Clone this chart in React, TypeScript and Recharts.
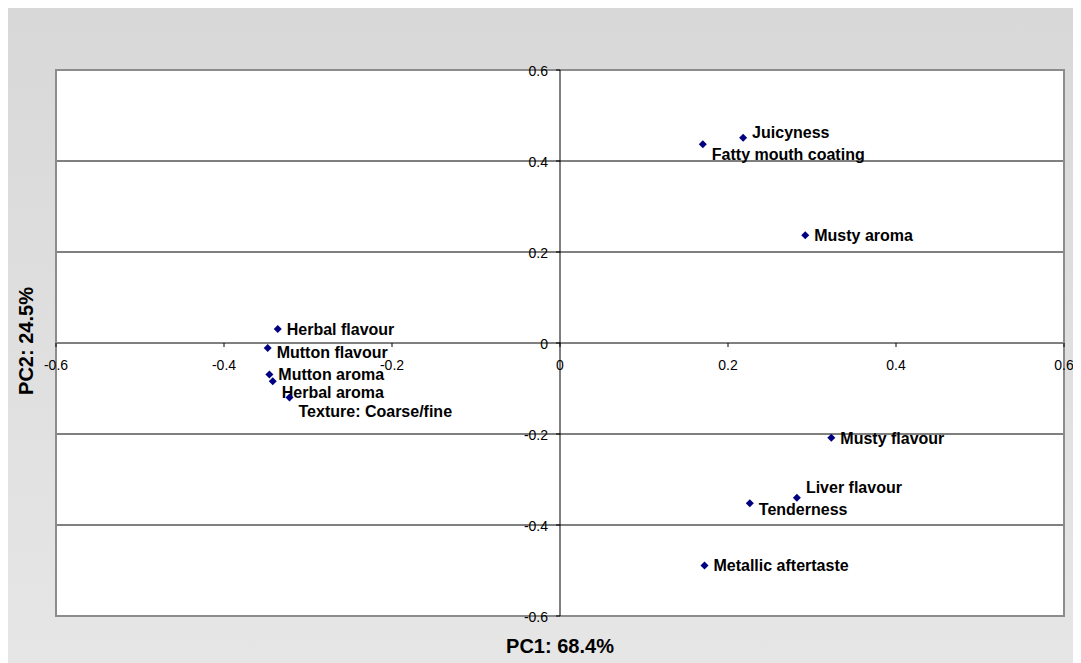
import React from "react";
import {
  ScatterChart,
  Scatter,
  XAxis,
  YAxis,
  CartesianGrid,
  ReferenceLine,
  ReferenceArea,
} from "recharts";

// ---- data ----
const attributes = [
  "Juicyness",
  "Fatty mouth coating",
  "Musty aroma",
  "Herbal flavour",
  "Mutton flavour",
  "Mutton aroma",
  "Herbal aroma",
  "Texture: Coarse/fine",
  "Musty flavour",
  "Liver flavour",
  "Tenderness",
  "Metallic aftertaste",
];
const pc1 = [0.218, 0.17, 0.292, -0.336, -0.348, -0.346, -0.342, -0.322, 0.323, 0.282, 0.226, 0.172];
const pc2 = [0.451, 0.437, 0.237, 0.031, -0.011, -0.069, -0.084, -0.12, -0.208, -0.34, -0.352, -0.489];
const xTicks = [-0.6, -0.4, -0.2, 0, 0.2, 0.4, 0.6];
const yTicks = [-0.6, -0.4, -0.2, 0, 0.2, 0.4, 0.6];
const xTitle = "PC1: 68.4%";
const yTitle = "PC2: 24.5%";

// label vertical offsets (style only)
const labelDy: Record<string, number> = {
  Juicyness: -6,
  "Fatty mouth coating": 10,
  "Mutton flavour": 4,
  "Herbal aroma": 11,
  "Texture: Coarse/fine": 13,
  "Liver flavour": -11,
  Tenderness: 6,
};

const points = attributes.map((name, i) => ({ name, x: pc1[i], y: pc2[i] }));

// ---- layout ----
const W = 1073;
const H = 656;
const M = { top: 62, right: 17, bottom: 18, left: 0 };
const Y_AXIS_W = 48;
const X_AXIS_H = 30;
const PLOT_LEFT = M.left + Y_AXIS_W;
const PLOT_W = W - PLOT_LEFT - M.right;
const PLOT_H = H - M.top - M.bottom - X_AXIS_H;
const ZERO_X = PLOT_LEFT + PLOT_W / 2;
const ZERO_Y = M.top + PLOT_H / 2;
const FONT = "'Liberation Sans', Arial, Helvetica, sans-serif";

const XTick = (props: any) => {
  const { x, payload } = props;
  return (
    <g>
      <line x1={x} x2={x} y1={ZERO_Y} y2={ZERO_Y + 4} stroke="#000" />
      <text x={x} y={ZERO_Y + 27} textAnchor="middle" fontSize={14} fill="#000" fontFamily={FONT}>
        {String(payload.value)}
      </text>
    </g>
  );
};

const YTick = (props: any) => {
  const { y, payload } = props;
  return (
    <g>
      <line x1={ZERO_X - 4} x2={ZERO_X} y1={y} y2={y} stroke="#000" />
      <text x={ZERO_X - 12} y={y + 6} textAnchor="end" fontSize={14} fill="#000" fontFamily={FONT}>
        {String(payload.value)}
      </text>
    </g>
  );
};

const PointShape = (props: any) => {
  const { cx, cy, payload } = props;
  if (cx == null || cy == null) return null;
  const s = 4;
  const dy = labelDy[payload.name] ?? 0;
  return (
    <g>
      <polygon
        points={`${cx},${cy - s} ${cx + s},${cy} ${cx},${cy + s} ${cx - s},${cy}`}
        fill="#000080"
      />
      <text
        x={cx + 9}
        y={cy + dy + 6}
        fontSize={16}
        fontWeight="bold"
        fill="#000"
        fontFamily={FONT}
      >
        {payload.name}
      </text>
    </g>
  );
};

export default function App() {
  return (
    <div
      style={{
        width: W,
        height: H,
        background: "linear-gradient(#d8d8d8, #e6e6e6)",
        position: "relative",
      }}
    >
      <ScatterChart width={W} height={H} margin={M}>
        <CartesianGrid vertical={false} stroke="#000" fill="#fff" />
        <XAxis
          type="number"
          dataKey="x"
          domain={[-0.6, 0.6]}
          ticks={xTicks}
          axisLine={false}
          tickLine={false}
          tick={<XTick />}
          height={X_AXIS_H}
          allowDataOverflow
        />
        <YAxis
          type="number"
          dataKey="y"
          domain={[-0.6, 0.6]}
          ticks={yTicks}
          axisLine={false}
          tickLine={false}
          tick={<YTick />}
          width={Y_AXIS_W}
          allowDataOverflow
        />
        <ReferenceLine x={0} stroke="#000" />
        <ReferenceArea
          x1={-0.6}
          x2={0.6}
          y1={-0.6}
          y2={0.6}
          fill="none"
          fillOpacity={0}
          stroke="#8c8c8c"
          strokeWidth={2}
          strokeOpacity={1}
        />
        <Scatter data={points} shape={<PointShape />} isAnimationActive={false} />
        <text
          x={ZERO_X}
          y={H - 11}
          textAnchor="middle"
          fontSize={20}
          fontWeight="bold"
          fill="#000"
          fontFamily={FONT}
        >
          {xTitle}
        </text>
        <text
          x={0}
          y={0}
          transform={`translate(24.5, ${ZERO_Y - 2}) rotate(-90)`}
          textAnchor="middle"
          fontSize={20}
          fontWeight="bold"
          fill="#000"
          fontFamily={FONT}
        >
          {yTitle}
        </text>
      </ScatterChart>
    </div>
  );
}
